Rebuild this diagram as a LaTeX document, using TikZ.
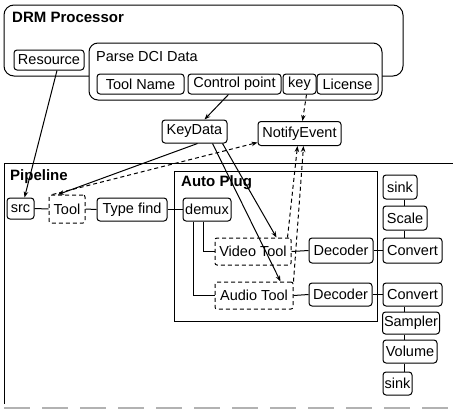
\documentclass[tikz,border=0pt]{standalone}
\usepackage{fontspec}
\setmainfont{Liberation Sans}
\usetikzlibrary{calc,arrows.meta}
\begin{document}
\begin{tikzpicture}[x=1pt,y=-1pt,
  every node/.style={font=\fontsize{14.5}{16}\selectfont},
  box/.style={draw, rounded corners=3pt, fill=white, line width=1pt, inner sep=0pt},
  dbox/.style={draw, dash pattern=on 4pt off 3pt, rounded corners=2pt, fill=white, line width=1pt, inner sep=0pt},
  grp/.style={draw, line width=1pt},
  heading/.style={font=\fontsize{15}{17}\selectfont\bfseries, anchor=west, inner sep=0pt},
  conn/.style={line width=1pt},
  arr/.style={line width=1pt, -{Stealth[length=6pt,width=4.5pt]}},
  darr/.style={arr, dash pattern=on 4pt off 3pt},
]
\useasboundingbox (0,0) rectangle (453,410);

% DRM processor group
\draw[grp, rounded corners=10pt] (4,5) rectangle (403,76);
\node[heading] (drmlabel) at (12,17) {DRM Processor};
\draw[grp, rounded corners=9pt, fill=white] (89,43) rectangle (382,100);
\node[anchor=west, inner sep=0pt] (parselabel) at (96,57) {Parse DCI Data};

\node[box, minimum width=70pt, minimum height=20pt] (res) at (49,60) {Resource};
\node[box, minimum width=87pt, minimum height=20pt] (toolname) at (140.5,84) {Tool Name};
\node[box, minimum width=93pt, minimum height=20pt] (ctrl) at (234.5,84) {Control point};
\node[box, minimum width=33pt, minimum height=20pt] (key) at (299.5,84) {key};
\node[box, minimum width=61pt, minimum height=20pt] (lic) at (347.5,84) {License};

\node[box, minimum width=65pt, minimum height=23pt] (keydata) at (194.5,131.5) {KeyData};
\node[box, minimum width=83pt, minimum height=24pt] (notify) at (299.5,133.5) {NotifyEvent};

% Pipeline group
\draw[grp] (4,404) -- (4,163) -- (453,163);
\draw[gray!60, line width=1.6pt, dash pattern=on 26pt off 12pt] (4,408) -- (453,408);
\node[heading] (pipelabel) at (10,177) {Pipeline};

% Auto Plug group
\draw[grp] (174,171) rectangle (377,321);
\node[heading] (autolabel) at (181,183) {Auto Plug};

\node[box, minimum width=27pt, minimum height=21pt] (src) at (20.5,208.5) {src};
\node[dbox, minimum width=36pt, minimum height=28pt] (tool) at (67,209) {Tool};
\node[box, minimum width=70pt, minimum height=23pt] (typefind) at (132,209.5) {Type find};
\node[box, minimum width=48pt, minimum height=23pt] (demux) at (207,209.5) {demux};

\node[dbox, minimum width=76pt, minimum height=27pt] (vtool) at (253,251.5) {Video Tool};
\node[box, minimum width=64pt, minimum height=25pt] (vdec) at (341,250.5) {Decoder};
\node[box, minimum width=59pt, minimum height=25pt] (vconv) at (412.5,250.5) {Convert};
\node[box, minimum width=44pt, minimum height=24pt] (scale) at (405,218) {Scale};
\node[box, minimum width=34pt, minimum height=24pt] (vsink) at (400,187) {sink};

\node[dbox, minimum width=78pt, minimum height=27pt] (atool) at (254,295.5) {Audio Tool};
\node[box, minimum width=63pt, minimum height=23pt] (adec) at (340.5,294.5) {Decoder};
\node[box, minimum width=59pt, minimum height=23pt] (aconv) at (412.5,294.5) {Convert};
\node[box, minimum width=57pt, minimum height=22pt] (sampler) at (411,323) {Sampler};
\node[box, minimum width=54pt, minimum height=23pt] (volume) at (410,351.5) {Volume};
\node[box, minimum width=29pt, minimum height=23pt] (asink) at (397.5,383.5) {sink};

\coordinate (col) at (404,0);

% plain links
\draw[conn] (src.east) -- (tool.west);
\draw[conn] (tool.east) -- (typefind.west);
\draw[conn] (typefind.east) -- (demux.west);
\draw[conn] ($(demux.south)+(-4,0)$) |- (vtool.west);
\draw[conn] ($(demux.south)+(-14,0)$) |- (atool.west);
\draw[conn] (vtool.east) -- (vdec.west);
\draw[conn] (atool.east) -- (adec.west);
\draw[conn] (vdec.east) -- (vconv.west);
\draw[conn] (adec.east) -- (aconv.west);
\draw[conn] (col |- vsink.south) -- (col |- scale.north);
\draw[conn] (col |- scale.south) -- (col |- vconv.north);
\draw[conn] (col |- aconv.south) -- (col |- sampler.north);
\draw[conn] (col |- sampler.south) -- (col |- volume.north);
\draw[conn] (col |- volume.south) -- (col |- asink.north);

% arrows
\draw[arr] ($(res.south)+(8,0)$) -- ($(src.north)+(4,0)$);
\draw[arr] ($(ctrl.south)+(-6,0)$) -- ($(keydata.north)+(10,0)$);
\draw[darr] ($(key.south)+(7,0)$) -- ($(notify.north)+(3,0)$);
\draw[arr] ($(keydata.south)+(3,0)$) -- ($(tool.north)+(-9,0)$);
\draw[arr] ($(keydata.south east)+(-5,0)$) -- ($(vtool.north east)+(-15,0)$);
\draw[arr] ($(keydata.south)+(18,0)$) -- ($(atool.north east)+(-13,0)$);
\draw[darr] ($(tool.north west)+(4,0)$) -- ($(notify.south west)+(0,-3.5)$);
\draw[darr] ($(vtool.north east)+(-4,0)$) -- ($(notify.south)+(-2,0)$);
\draw[darr] (atool.north east) -- ($(notify.south)+(4,0)$);
\end{tikzpicture}
\end{document}
